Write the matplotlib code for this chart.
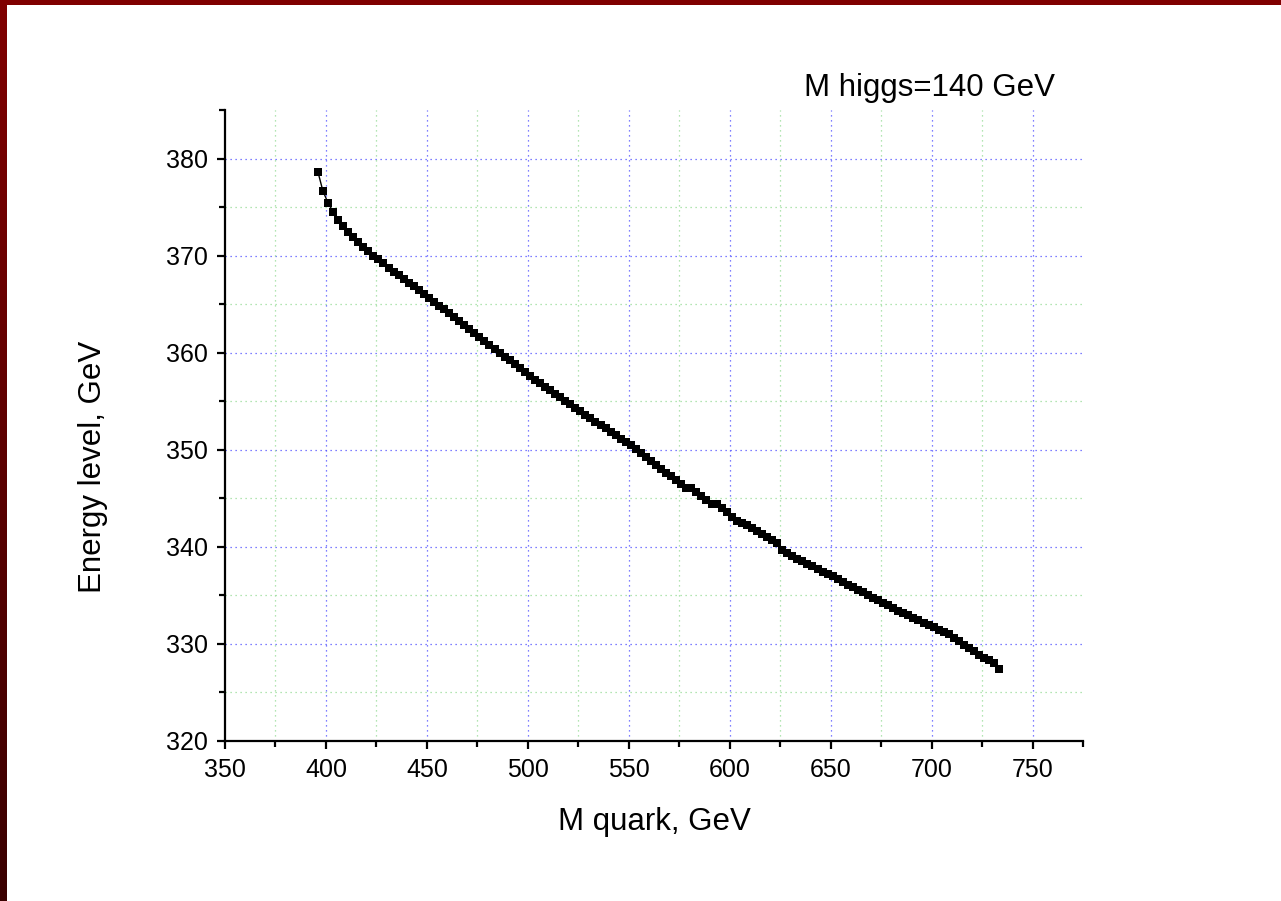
import matplotlib
matplotlib.use("Agg")
import matplotlib.pyplot as plt
from matplotlib.ticker import MultipleLocator
import numpy as np

plt.rcParams['font.family'] = ['Liberation Sans', 'DejaVu Sans']

# M quark, GeV
m_quark = [
    396.0, 398.5, 401.0, 403.5, 406.0, 408.5, 411.0, 413.5, 416.0, 418.5,
    421.0, 423.5, 426.0, 428.5, 431.0, 433.5, 436.0, 438.5, 441.0, 443.5,
    446.0, 448.5, 451.0, 453.5, 456.0, 458.5, 461.0, 463.5, 466.0, 468.5,
    471.0, 473.5, 476.0, 478.5, 481.0, 483.5, 486.0, 488.5, 491.0, 493.5,
    496.0, 498.5, 501.0, 503.5, 506.0, 508.5, 511.0, 513.5, 516.0, 518.5,
    521.0, 523.5, 526.0, 528.5, 531.0, 533.5, 536.0, 538.5, 541.0, 543.5,
    546.0, 548.5, 551.0, 553.5, 556.0, 558.5, 561.0, 563.5, 566.0, 568.5,
    571.0, 573.5, 576.0, 578.5, 581.0, 583.5, 586.0, 588.5, 591.0, 593.5,
    596.0, 598.5, 601.0, 603.5, 606.0, 608.5, 611.0, 613.5, 616.0, 618.5,
    621.0, 623.5, 626.0, 628.5, 631.0, 633.5, 636.0, 638.5, 641.0, 643.5,
    646.0, 648.5, 651.0, 653.5, 656.0, 658.5, 661.0, 663.5, 666.0, 668.5,
    671.0, 673.5, 676.0, 678.5, 681.0, 683.5, 686.0, 688.5, 691.0, 693.5,
    696.0, 698.5, 701.0, 703.5, 706.0, 708.5, 711.0, 713.5, 716.0, 718.5,
    721.0, 723.5, 726.0, 728.5, 731.0, 733.5,
]

# Energy level, GeV
energy = [
    378.65, 376.65, 375.45, 374.5, 373.7, 373.0, 372.45, 371.95, 371.4, 370.9,
    370.45, 370.0, 369.6, 369.2, 368.75, 368.35, 368.0, 367.6, 367.2, 366.85,
    366.45, 366.05, 365.65, 365.25, 364.85, 364.45, 364.05, 363.65, 363.25, 362.85,
    362.4, 362.0, 361.6, 361.2, 360.8, 360.4, 360.0, 359.6, 359.2, 358.8,
    358.4, 358.0, 357.6, 357.23, 356.86, 356.49, 356.12, 355.76, 355.4, 355.04,
    354.68, 354.32, 353.96, 353.6, 353.25, 352.9, 352.55, 352.2, 351.85, 351.5,
    351.15, 350.8, 350.45, 350.05, 349.65, 349.25, 348.85, 348.45, 348.05, 347.65,
    347.25, 346.85, 346.5, 346.1, 346.05, 345.65, 345.25, 344.85, 344.45, 344.4,
    344.0, 343.55, 343.1, 342.65, 342.45, 342.2, 341.95, 341.65, 341.35, 341.0,
    340.75, 340.4, 339.7, 339.35, 339.05, 338.75, 338.5, 338.25, 338.0, 337.7,
    337.45, 337.2, 336.95, 336.7, 336.4, 336.1, 335.85, 335.55, 335.3, 335.0,
    334.75, 334.5, 334.25, 334.0, 333.7, 333.35, 333.15, 332.95, 332.7, 332.45,
    332.2, 331.95, 331.7, 331.45, 331.2, 331.0, 330.6, 330.3, 329.9, 329.6,
    329.25, 328.9, 328.6, 328.3, 328.0, 327.45,
]

x_ticks = [350, 400, 450, 500, 550, 600, 650, 700, 750]
y_ticks = [320, 330, 340, 350, 360, 370, 380]

fig = plt.figure(figsize=(12.81, 9.01), dpi=100)

# slide border: dark red on left (fading down) and top
border = fig.add_axes([0, 0, 7 / 1281, 1])
grad = np.linspace(0, 1, 256).reshape(-1, 1)
border.imshow(grad, aspect='auto', cmap=matplotlib.colors.LinearSegmentedColormap.from_list(
    'b', ['#800000', '#3a0000']), extent=[0, 1, 0, 1])
border.axis('off')
top = fig.add_axes([0, 1 - 5 / 901, 1, 5 / 901])
top.set_facecolor('#800000')
top.set_xticks([])
top.set_yticks([])
for s in top.spines.values():
    s.set_visible(False)

ax = fig.add_axes([225 / 1281, 1 - 741 / 901, (1083 - 225) / 1281, (741 - 110) / 901])

ax.plot(m_quark, energy, color='black', lw=1.0, marker='s', markersize=5.3,
        markeredgewidth=0, zorder=3)

ax.set_xlim(350, 775)
ax.set_ylim(320, 385)
ax.set_xticks(x_ticks)
ax.set_yticks(y_ticks)
ax.xaxis.set_minor_locator(MultipleLocator(25))
ax.yaxis.set_minor_locator(MultipleLocator(5))

# grid drawn by hand so nothing sits on the top / right edge
grid_major = dict(color='#5555ff', linestyle=(0, (1, 3)), linewidth=0.9, zorder=1)
grid_minor = dict(color='#99dd99', linestyle=(0, (1, 3)), linewidth=0.9, zorder=1)
for v in x_ticks[1:]:
    ax.axvline(v, **grid_major)
for v in y_ticks[1:]:
    ax.axhline(v, **grid_major)
for v in range(375, 775, 50):
    ax.axvline(v, **grid_minor)
for v in range(325, 385, 10):
    ax.axhline(v, **grid_minor)

ax.spines['top'].set_visible(False)
ax.spines['right'].set_visible(False)
ax.spines['left'].set_linewidth(1.6)
ax.spines['bottom'].set_linewidth(1.6)
ax.tick_params(which='major', direction='out', length=6, width=1.6, labelsize=18, pad=6)
ax.tick_params(which='minor', direction='out', length=4, width=1.6)

fig.text(0.5105, 1 - 822 / 901, 'M quark, GeV', ha='center', va='center', fontsize=22.5)
fig.text(93 / 1281, 1 - 467 / 901, 'Energy level, GeV', ha='center', va='center',
         rotation=90, fontsize=22.5)
fig.text(1055 / 1281, 1 - 88 / 901, 'M higgs=140 GeV', ha='right', va='center', fontsize=22.5)

fig.savefig('out.png', dpi=100, facecolor='white')
